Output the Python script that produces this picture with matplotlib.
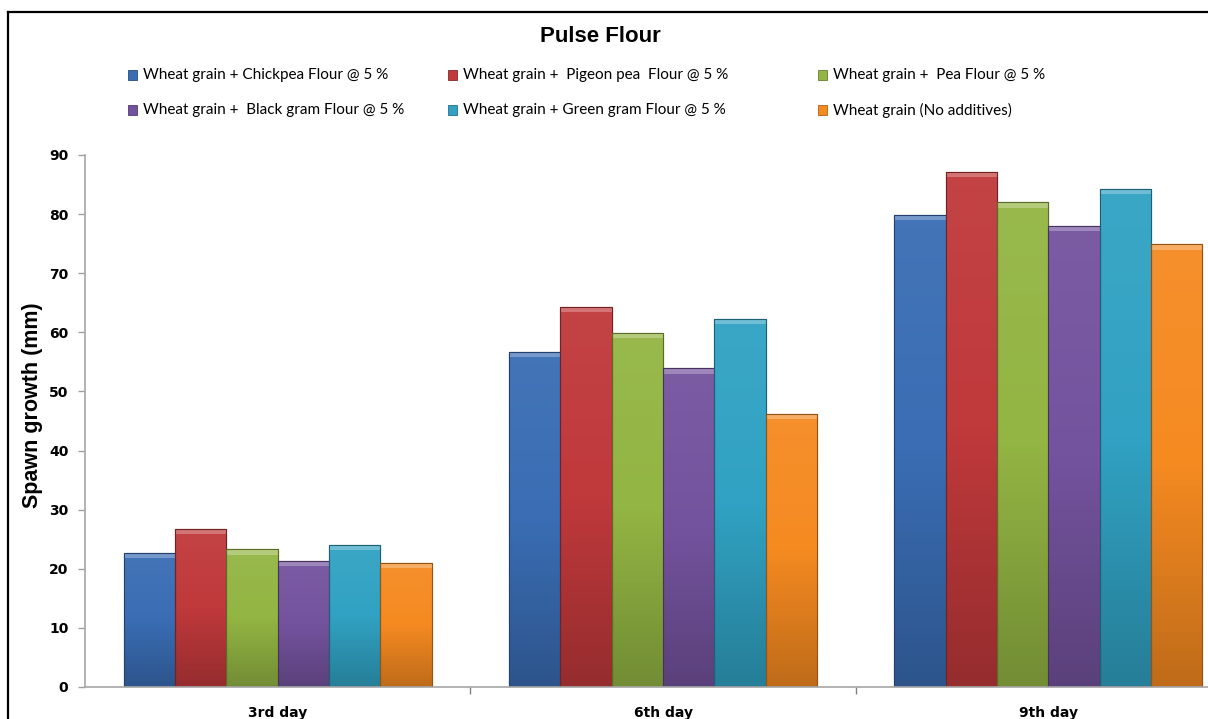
import matplotlib
matplotlib.use("Agg")
import matplotlib.pyplot as plt
import numpy as np
from matplotlib.colors import LinearSegmentedColormap, to_rgb
from matplotlib.lines import Line2D
from matplotlib.patches import Rectangle

categories = ["3rd day", "6th day", "9th day"]
series_names = [
    "Wheat grain + Chickpea Flour @ 5 %",
    "Wheat grain +  Pigeon pea  Flour @ 5 %",
    "Wheat grain +  Pea Flour @ 5 %",
    "Wheat grain +  Black gram Flour @ 5 %",
    "Wheat grain + Green gram Flour @ 5 %",
    "Wheat grain (No additives)",
]
chickpea = [22.7, 56.7, 79.9]
pigeon_pea = [26.7, 64.3, 87.2]
pea = [23.3, 59.9, 82.0]
black_gram = [21.3, 53.9, 78.0]
green_gram = [24.0, 62.3, 84.3]
no_additives = [21.0, 46.2, 74.9]
values = [chickpea, pigeon_pea, pea, black_gram, green_gram, no_additives]
yticks = list(range(0, 91, 10))

colors = ["#3a6db4", "#c0393b", "#93b543", "#74539e", "#31a2c3", "#f58a21"]

W, H = 1208, 719
fig = plt.figure(figsize=(W / 100, H / 100), dpi=100)
fig.patch.set_facecolor("white")

ax_left, ax_right = 85, 1241
ax_bottom_px, ax_top_px = 687, 155
ax = fig.add_axes([ax_left / W, (H - ax_bottom_px) / H,
                   (ax_right - ax_left) / W, (ax_bottom_px - ax_top_px) / H])

n = len(values)
bw = 1 / 7.5
x = np.arange(len(categories))

def shade(c, f):
    r, g, b = to_rgb(c)
    if f < 1:
        return (r * f, g * f, b * f)
    return (r + (1 - r) * (f - 1), g + (1 - g) * (f - 1), b + (1 - b) * (f - 1))

for i, (vals, c) in enumerate(zip(values, colors)):
    bars = ax.bar(x + (i - (n - 1) / 2) * bw, vals, width=bw, color=c,
                  edgecolor=shade(c, 0.6), linewidth=0.8, zorder=2)
    cmap = LinearSegmentedColormap.from_list(
        "g", [shade(c, 0.78), c, shade(c, 1.05)])
    for b in bars:
        x0, y0 = b.get_x(), b.get_y()
        w, h = b.get_width(), b.get_height()
        grad = np.linspace(0, 1, 64).reshape(-1, 1)
        im = ax.imshow(grad, extent=[x0, x0 + w, y0, y0 + h], origin="lower",
                       cmap=cmap, aspect="auto", zorder=2.1)
        im.set_clip_path(b)
        ax.add_patch(Rectangle((x0, y0 + h - 0.9), w, 0.9,
                               facecolor=shade(c, 1.3), edgecolor="none",
                               zorder=2.2))
        ax.add_patch(Rectangle((x0, y0), w, h, facecolor="none",
                               edgecolor=shade(c, 0.6), linewidth=0.8,
                               zorder=2.3))

ax.set_xlim(-0.5, 2.5)
ax.set_ylim(0, 90)
ax.set_yticks(yticks)
ax.set_yticklabels([str(t) for t in yticks], fontfamily="DejaVu Sans",
                   fontweight="bold", fontsize=10)
ax.set_xticks(x)
ax.set_xticklabels(categories, fontfamily="DejaVu Sans", fontweight="bold",
                   fontsize=10)
ax.set_xticks([0.5, 1.5], minor=True)
ax.tick_params(axis="x", which="major", length=0, pad=14)
ax.tick_params(axis="x", which="minor", length=5, color="#808080", width=1)
ax.tick_params(axis="y", length=5, color="#a0a0a0", width=1, pad=7)
for s in ["top", "right"]:
    ax.spines[s].set_visible(False)
for s in ["left", "bottom"]:
    ax.spines[s].set_color("#a6a6a6")
    ax.spines[s].set_linewidth(1.2)

fig.text(33 / W, 1 - 405 / H, "Spawn growth (mm)", rotation=90,
         ha="center", va="center", fontfamily="Liberation Sans",
         fontweight="bold", fontsize=15.5)

fig.text(600 / W, 1 - 37 / H, "Pulse Flour", ha="center", va="center",
         fontfamily="Liberation Sans", fontweight="bold", fontsize=16)

# legend
col_x = [128, 448, 818]
row_y = [75, 110]
for i, (name, c) in enumerate(zip(series_names, colors)):
    r, col = divmod(i, 3)
    mx, my = col_x[col], row_y[r]
    fig.patches.append(Rectangle((mx / W, 1 - (my + 4.5) / H), 9 / W, 9 / H,
                                 transform=fig.transFigure, facecolor=c,
                                 edgecolor=shade(c, 0.7), linewidth=0.6))
    fig.text((mx + 15) / W, 1 - my / H, name, ha="left", va="center",
             fontfamily="Lato", fontsize=11, color="#000000")

# outer border
lx, ty = 8 / W, 1 - 12 / H
fig.lines.append(Line2D([lx, lx], [-0.01, ty], transform=fig.transFigure,
                        color="black", linewidth=1.6))
fig.lines.append(Line2D([lx, 1.01], [ty, ty], transform=fig.transFigure,
                        color="black", linewidth=1.6))

fig.savefig("out.png", dpi=100)
